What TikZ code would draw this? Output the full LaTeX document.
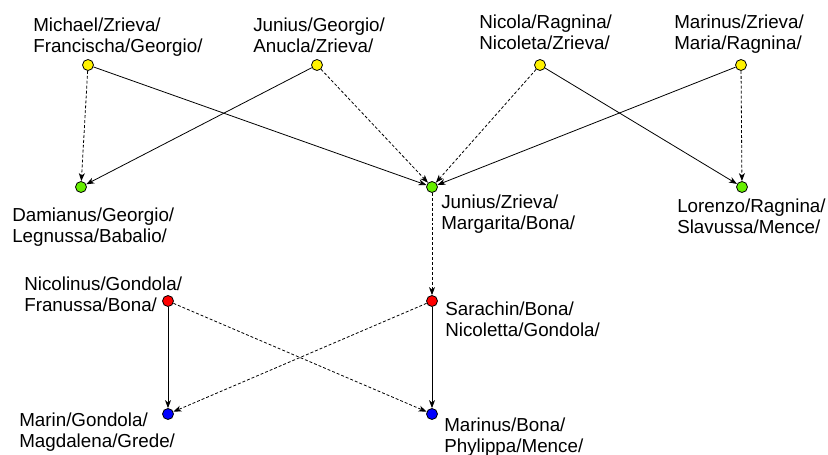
\documentclass[tikz,border=0pt]{standalone}
\usepackage{fontspec}
\setmainfont{Liberation Sans}
\usetikzlibrary{arrows.meta}
\definecolor{leafgreen}{RGB}{102,238,0}

\begin{document}
\begin{tikzpicture}[x=0.75pt,y=-0.75pt,
        person/.style={circle,draw,line width=0.6pt,inner sep=0pt,minimum size=8.25pt,fill=#1},
        personname/.style={anchor=north west,inner sep=0pt,align=left,font=\fontsize{14.1}{15.75}\selectfont},
        solidlink/.style={line width=0.6pt,-{Stealth[length=6pt,width=4.5pt,inset=1.8pt]}},
        dashlink/.style={solidlink,dash pattern=on 2.2pt off 1.5pt}]
        \useasboundingbox (0,0) rectangle (828,454);
        %% Top row
        \node[person=yellow] (michael) at (88,65) {};
        \node[person=yellow] (juniusg) at (317,65) {};
        \node[person=yellow] (nicola) at (540,65) {};
        \node[person=yellow] (marinusz) at (741,65) {};
        \node[personname] at (33,18) {Michael/Zrieva/\\Francischa/Georgio/};
        \node[personname] at (253,18) {Junius/Georgio/\\Anucla/Zrieva/};
        \node[personname] at (479,15) {Nicola/Ragnina/\\Nicoleta/Zrieva/};
        \node[personname] at (674,15) {Marinus/Zrieva/\\Maria/Ragnina/};
        %% Middle row
        \node[person=leafgreen] (damianus) at (81,187) {};
        \node[person=leafgreen] (juniusz) at (432,187) {};
        \node[person=leafgreen] (lorenzo) at (742,187) {};
        \node[personname] at (12,208) {Damianus/Georgio/\\Legnussa/Babalio/};
        \node[personname] at (441,195) {Junius/Zrieva/\\Margarita/Bona/};
        \node[personname] at (677,199) {Lorenzo/Ragnina/\\Slavussa/Mence/};
        %% Lower rows
        \node[person=red] (nicolinus) at (168,301) {};
        \node[person=red] (sarachin) at (432,301) {};
        \node[person=blue] (marin) at (168,414) {};
        \node[person=blue] (marinusb) at (432,414) {};
        \node[personname] at (24,277) {Nicolinus/Gondola/\\Franussa/Bona/};
        \node[personname] at (445,302) {Sarachin/Bona/\\Nicoletta/Gondola/};
        \node[personname] at (19,413) {Marin/Gondola/\\Magdalena/Grede/};
        \node[personname] at (444,418) {Marinus/Bona/\\Phylippa/Mence/};
        %% Links
        \draw[solidlink] (michael) -- (juniusz);
        \draw[dashlink] (michael) -- (damianus);
        \draw[solidlink] (juniusg) -- (damianus);
        \draw[dashlink] (juniusg) -- (juniusz);
        \draw[dashlink] (nicola) -- (juniusz);
        \draw[solidlink] (nicola) -- (lorenzo);
        \draw[solidlink] (marinusz) -- (juniusz);
        \draw[dashlink] (marinusz) -- (lorenzo);
        \draw[dashlink] (juniusz) -- (sarachin);
        \draw[solidlink] (nicolinus) -- (marin);
        \draw[dashlink] (nicolinus) -- (marinusb);
        \draw[solidlink] (sarachin) -- (marinusb);
        \draw[dashlink] (sarachin) -- (marin);
\end{tikzpicture}
\end{document}
